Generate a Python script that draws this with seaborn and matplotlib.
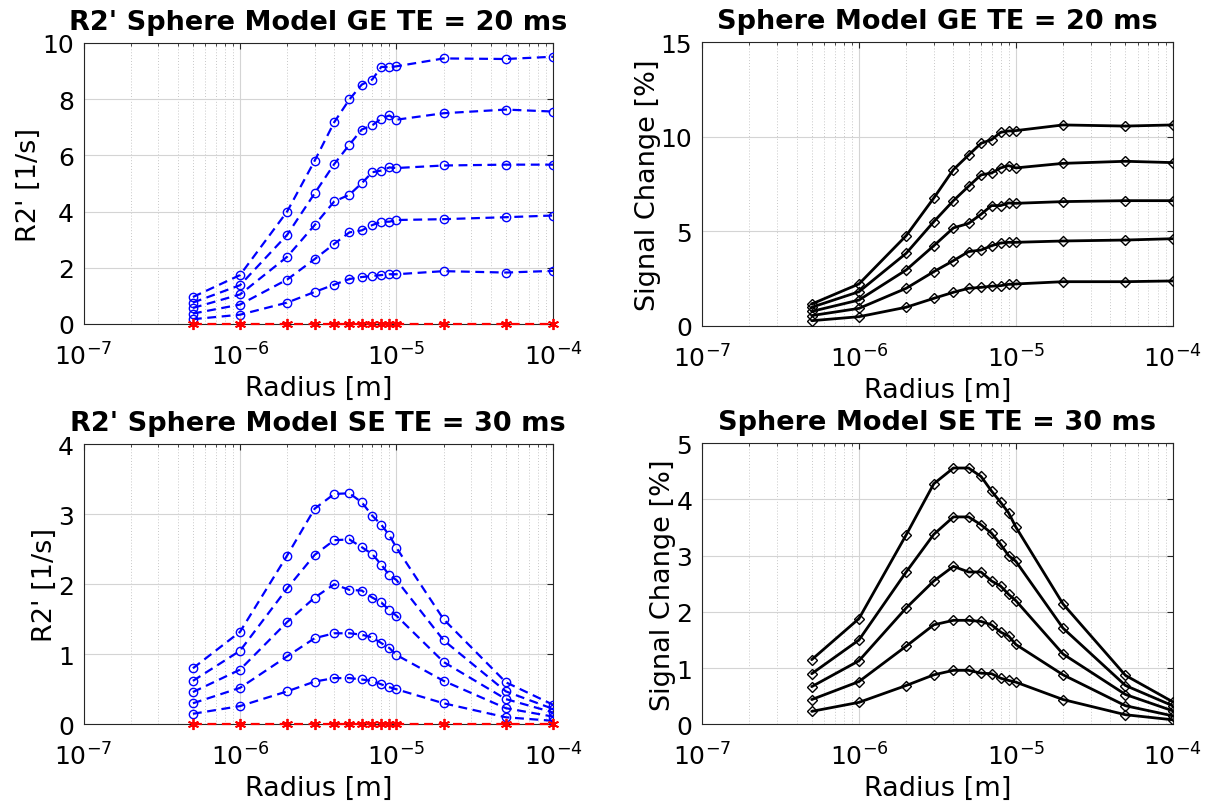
import numpy as np
import pandas as pd
import matplotlib
matplotlib.use("Agg")
import matplotlib.pyplot as plt
import seaborn as sns
from matplotlib.ticker import LogLocator, NullFormatter

radius = [5e-7, 1e-6, 2e-6, 3e-6, 4e-6, 5e-6, 6e-6, 7e-6, 8e-6, 9e-6, 1e-5, 2e-5, 5e-5, 1e-4]

# R2' GE TE = 20 ms (five blood-volume levels, low to high)
ge_r2_1 = [0.17, 0.33, 0.76, 1.14, 1.40, 1.60, 1.67, 1.71, 1.74, 1.77, 1.77, 1.88, 1.83, 1.89]
ge_r2_2 = [0.37, 0.69, 1.58, 2.31, 2.85, 3.26, 3.33, 3.52, 3.64, 3.64, 3.70, 3.73, 3.80, 3.86]
ge_r2_3 = [0.57, 1.05, 2.39, 3.52, 4.36, 4.60, 5.01, 5.40, 5.46, 5.57, 5.55, 5.64, 5.67, 5.67]
ge_r2_4 = [0.76, 1.38, 3.17, 4.65, 5.69, 6.38, 6.92, 7.07, 7.31, 7.42, 7.27, 7.50, 7.63, 7.56]
ge_r2_5 = [0.96, 1.74, 4.00, 5.81, 7.18, 7.99, 8.52, 8.70, 9.15, 9.14, 9.17, 9.45, 9.43, 9.51]

# Signal change GE TE = 20 ms
ge_sc_1 = [0.28, 0.49, 0.99, 1.46, 1.78, 1.99, 2.04, 2.10, 2.13, 2.20, 2.22, 2.34, 2.34, 2.38]
ge_sc_2 = [0.55, 0.93, 1.99, 2.87, 3.45, 3.93, 4.01, 4.24, 4.38, 4.42, 4.42, 4.49, 4.54, 4.61]
ge_sc_3 = [0.77, 1.37, 2.96, 4.24, 5.18, 5.42, 5.90, 6.36, 6.36, 6.50, 6.48, 6.57, 6.62, 6.62]
ge_sc_4 = [0.99, 1.81, 3.84, 5.51, 6.62, 7.38, 7.98, 8.08, 8.35, 8.47, 8.35, 8.59, 8.70, 8.63]
ge_sc_5 = [1.16, 2.22, 4.77, 6.76, 8.26, 9.03, 9.65, 9.84, 10.23, 10.30, 10.32, 10.62, 10.56, 10.62]

# R2' SE TE = 30 ms
se_r2_1 = [0.15, 0.26, 0.47, 0.61, 0.66, 0.66, 0.64, 0.62, 0.57, 0.53, 0.50, 0.30, 0.10, 0.05]
se_r2_2 = [0.30, 0.52, 0.97, 1.23, 1.30, 1.30, 1.28, 1.24, 1.16, 1.09, 0.99, 0.62, 0.23, 0.11]
se_r2_3 = [0.46, 0.78, 1.46, 1.81, 2.00, 1.92, 1.91, 1.81, 1.74, 1.63, 1.55, 0.89, 0.36, 0.17]
se_r2_4 = [0.62, 1.05, 1.94, 2.42, 2.63, 2.64, 2.53, 2.43, 2.28, 2.13, 2.06, 1.20, 0.47, 0.22]
se_r2_5 = [0.80, 1.32, 2.41, 3.08, 3.29, 3.30, 3.17, 2.98, 2.85, 2.70, 2.52, 1.50, 0.60, 0.28]

# Signal change SE TE = 30 ms
se_sc_1 = [0.23, 0.39, 0.69, 0.88, 0.96, 0.96, 0.91, 0.90, 0.82, 0.78, 0.75, 0.44, 0.17, 0.08]
se_sc_2 = [0.44, 0.76, 1.39, 1.77, 1.85, 1.85, 1.83, 1.77, 1.64, 1.57, 1.42, 0.88, 0.33, 0.15]
se_sc_3 = [0.67, 1.13, 2.07, 2.55, 2.81, 2.71, 2.71, 2.55, 2.46, 2.31, 2.20, 1.25, 0.53, 0.24]
se_sc_4 = [0.90, 1.50, 2.71, 3.38, 3.69, 3.69, 3.55, 3.40, 3.20, 3.00, 2.90, 1.71, 0.69, 0.33]
se_sc_5 = [1.15, 1.88, 3.37, 4.28, 4.56, 4.56, 4.41, 4.15, 3.95, 3.76, 3.51, 2.14, 0.87, 0.40]

zero_line = [0.0] * len(radius)

titles = ["R2' Sphere Model GE TE = 20 ms", "Sphere Model GE TE = 20 ms",
          "R2' Sphere Model SE TE = 30 ms", "Sphere Model SE TE = 30 ms"]
ylabels = ["R2' [1/s]", "Signal Change [%]", "R2' [1/s]", "Signal Change [%]"]
xlabel = "Radius [m]"
yticks_list = [[0, 2, 4, 6, 8, 10], [0, 5, 10, 15], [0, 1, 2, 3, 4], [0, 1, 2, 3, 4, 5]]

sns.set_style("white")
plt.rcParams['font.family'] = ['DejaVu Sans']
plt.rcParams['mathtext.fontset'] = 'dejavusans'
plt.rcParams['text.color'] = 'black'
plt.rcParams['axes.labelcolor'] = 'black'
plt.rcParams['axes.titlecolor'] = 'black'

fig = plt.figure(figsize=(12.14, 8.04), dpi=100)
rects = [
    [0.0688, 0.5958, 0.3867, 0.3495],
    [0.5783, 0.5933, 0.3877, 0.3532],
    [0.0688, 0.0979, 0.3867, 0.3483],
    [0.5783, 0.0979, 0.3877, 0.3495],
]
axes = [fig.add_axes(r) for r in rects]

panels = [
    ([ge_r2_1, ge_r2_2, ge_r2_3, ge_r2_4, ge_r2_5], 'r2'),
    ([ge_sc_1, ge_sc_2, ge_sc_3, ge_sc_4, ge_sc_5], 'sc'),
    ([se_r2_1, se_r2_2, se_r2_3, se_r2_4, se_r2_5], 'r2'),
    ([se_sc_1, se_sc_2, se_sc_3, se_sc_4, se_sc_5], 'sc'),
]

asterisk = (6, 2, 0)

for i, (ax, (series, kind)) in enumerate(zip(axes, panels)):
    if kind == 'r2':
        for s in series:
            sns.lineplot(x=radius, y=s, ax=ax, color='#0000ff', linestyle=(0, (4, 2.5)), lw=1.6,
                         marker='o', markersize=6, markerfacecolor='none',
                         markeredgecolor='#0000ff', markeredgewidth=1.0, sort=False,
                         estimator=None, zorder=3)
        sns.lineplot(x=radius, y=zero_line, ax=ax, color='#ff0000', linestyle=(0, (4, 2.5)), lw=1.6,
                     marker=asterisk, markersize=8, markeredgecolor='#ff0000', markeredgewidth=1.3,
                     sort=False, estimator=None, clip_on=False, zorder=4)
    else:
        for s in series:
            sns.lineplot(x=radius, y=s, ax=ax, color='black', linestyle='-', lw=2.0,
                         marker='D', markersize=5.5, markerfacecolor='none',
                         markeredgecolor='black', markeredgewidth=1.0, sort=False,
                         estimator=None, zorder=3)
    ax.set_xscale('log')
    ax.set_xlim(1e-7, 1e-4)
    yt = yticks_list[i]
    ax.set_ylim(yt[0], yt[-1])
    ax.set_yticks(yt)
    ax.set_xticks([1e-7, 1e-6, 1e-5, 1e-4])
    ax.xaxis.set_minor_locator(LogLocator(base=10, subs=np.arange(2, 10), numticks=20))
    ax.xaxis.set_minor_formatter(NullFormatter())
    ax.grid(True, which='major', color='#d4d4d4', linestyle='-', linewidth=0.8, zorder=0)
    ax.grid(True, which='minor', axis='x', color='#c8c8c8', linestyle=(0, (1, 2)), linewidth=0.7, zorder=0)
    ax.set_axisbelow(True)
    for sp in ax.spines.values():
        sp.set_color('#262626')
        sp.set_linewidth(0.8)
        sp.set_visible(True)
    ax.tick_params(axis='both', which='major', direction='in', length=4, width=0.8,
                   labelsize=18, top=True, right=True, colors='#262626', labelcolor='black')
    ax.tick_params(axis='x', which='major', pad=13)
    ax.tick_params(axis='y', which='major', pad=7)
    ax.tick_params(axis='x', which='minor', direction='in', length=2, width=0.6, top=True)
    ax.set_title(titles[i], fontsize=19.5, fontweight='bold', pad=10)
    ax.set_xlabel(xlabel, fontsize=19.5, labelpad=4)
    ax.set_ylabel(ylabels[i], fontsize=19.5, labelpad=0)

fig.savefig("out.png", dpi=100)
